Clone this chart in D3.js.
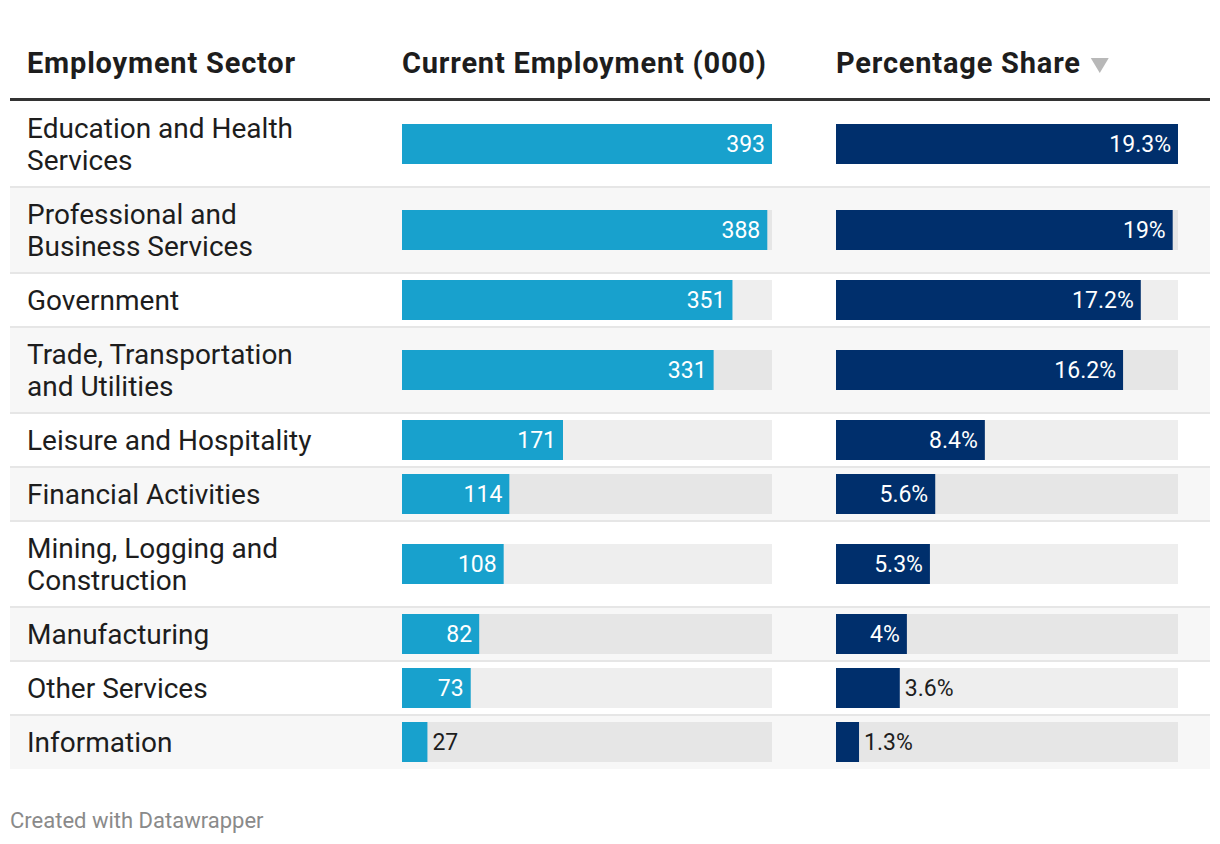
<!DOCTYPE html>
<html>
<head>
<meta charset="utf-8">
<script src="https://cdn.jsdelivr.net/npm/d3@7"></script>
<style>
  body { margin: 0; background: #fff; }
  svg { display: block; font-family: Roboto, "Noto Sans", sans-serif; }
</style>
</head>
<body>
<svg width="1220" height="844"></svg>
<script>
// DATA

var sectors = ["Education and Health Services", "Professional and Business Services",
    "Government", "Trade, Transportation and Utilities", "Leisure and Hospitality",
    "Financial Activities", "Mining, Logging and Construction", "Manufacturing",
    "Other Services", "Information"];
var employment = [393, 388, 351, 331, 171, 114, 108, 82, 73, 27];
var share = [19.3, 19, 17.2, 16.2, 8.4, 5.6, 5.3, 4, 3.6, 1.3];
var headers = ["Employment Sector", "Current Employment (000)", "Percentage Share"];

// SETUP

var svg = d3.select("svg"),
    left = 10, right = 1210,
    headTop = 101,
    nameX = 27, nameSize = 28, valSize = 23,
    lineH = 32, pad1 = 54, barH = 40,
    col1 = [402, 772], col2 = [836, 1178];

var x1 = d3.scaleLinear().domain([0, d3.max(employment)]).range([0, col1[1] - col1[0]]);
var x2 = d3.scaleLinear().domain([0, d3.max(share)]).range([0, col2[1] - col2[0]]);

// header
var head = svg.append("g").attr("font-weight", 700).attr("font-size", 29)
    .attr("letter-spacing", 0.8).attr("fill", "#1d1d1d");
head.append("text").attr("x", nameX).attr("y", 73).text(headers[0]);
head.append("text").attr("x", col1[0]).attr("y", 73).text(headers[1]);
var h3 = head.append("text").attr("x", col2[0]).attr("y", 73).text(headers[2]);
var hx = col2[0] + h3.node().getComputedTextLength() + 10;
svg.append("path").attr("d", "M" + hx + ",58h18l-9,15z").attr("fill", "#b8b8b8");
svg.append("rect").attr("x", left).attr("y", 98).attr("width", right - left).attr("height", 3).attr("fill", "#333");

// wrap names
var meas = svg.append("text").attr("font-size", nameSize);
function wrap(s) {
    var words = s.split(" "), lines = [], cur = "";
    words.forEach(function (w) {
        var t = cur ? cur + " " + w : w;
        meas.text(t);
        if (meas.node().getComputedTextLength() > 300 && cur) { lines.push(cur); cur = w; }
        else cur = t;
    });
    lines.push(cur);
    return lines;
}
var rows = sectors.map(function (s, i) {
    return { name: s, lines: wrap(s), emp: employment[i], share: share[i], i: i };
});
meas.remove();

var y0 = headTop;
rows.forEach(function (r) {
    r.h = pad1 + (r.lines.length - 1) * lineH;
    r.y = y0;
    y0 += r.h;
});

// DRAWING

var g = svg.selectAll(".row").data(rows).enter().append("g").attr("class", "row")
    .attr("transform", function (d) { return "translate(0," + d.y + ")"; });

g.append("rect").attr("x", left).attr("width", right - left)
    .attr("height", function (d) { return d.h; })
    .attr("fill", function (d) { return d.i % 2 ? "#f7f7f7" : "#fff"; });
g.filter(function (d) { return d.i > 0; }).append("rect")
    .attr("x", left).attr("width", right - left).attr("y", -1).attr("height", 2).attr("fill", "#e6e6e6");

g.append("text").attr("font-size", nameSize).attr("fill", "#1d1d1d")
    .each(function (d) {
        var t = d3.select(this), n = d.lines.length;
        d.lines.forEach(function (l, k) {
            t.append("tspan").attr("x", nameX)
                .attr("y", d.h / 2 + 10 - (n - 1) * lineH / 2 + k * lineH).text(l);
        });
    });

function bars(x0, x1s, scale, val, fmt, color) {
    var by = function (d) { return d.h / 2 - barH / 2; };
    g.append("rect").attr("x", x0).attr("y", by).attr("width", x1s - x0).attr("height", barH)
        .attr("fill", "#000").attr("fill-opacity", 0.065);
    g.append("rect").attr("x", x0).attr("y", by)
        .attr("width", function (d) { return scale(val(d)); }).attr("height", barH)
        .attr("fill", color);
    g.append("text").attr("font-size", valSize).attr("y", function (d) { return d.h / 2 + 8; })
        .text(function (d) { return fmt(val(d)); })
        .each(function (d) {
            var t = d3.select(this), w = this.getComputedTextLength(), bw = scale(val(d));
            if (w + 16 <= bw) t.attr("x", x0 + bw - 7).attr("text-anchor", "end").attr("fill", "#fff");
            else t.attr("x", x0 + bw + 5).attr("fill", "#1d1d1d");
        });
}
bars(col1[0], col1[1], x1, function (d) { return d.emp; }, function (v) { return v; }, "#18a1cd");
bars(col2[0], col2[1], x2, function (d) { return d.share; }, function (v) { return v + "%"; }, "#002f6c");

svg.append("text").attr("x", left).attr("y", 828).attr("font-size", 22).attr("fill", "#8a8a8a")
    .text("Created with Datawrapper");
</script>
</body>
</html>
